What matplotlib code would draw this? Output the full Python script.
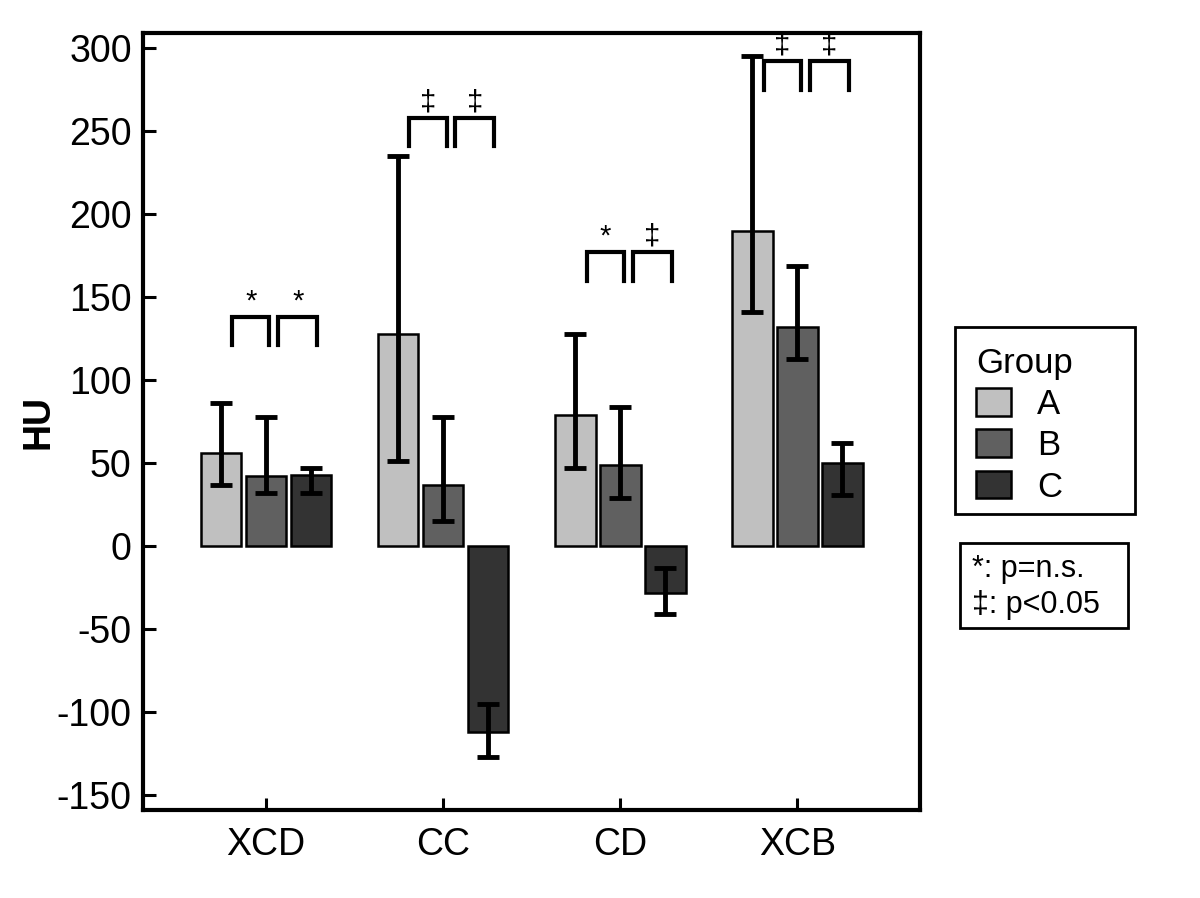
import numpy as np
import matplotlib.pyplot as plt
from matplotlib.patches import Rectangle

plt.rcParams['font.family'] = ['Liberation Sans', 'DejaVu Sans']
plt.rcParams['axes.unicode_minus'] = False

# data
regions = ["XCD", "CC", "CD", "XCB"]
groups = ["A", "B", "C"]
mean_a = [56, 128, 79, 190]
mean_b = [42, 37, 49, 132]
mean_c = [43, -112, -28, 50]
low_a = [37, 51, 47, 141]
high_a = [86, 235, 128, 295]
low_b = [32, 15, 29, 113]
high_b = [78, 78, 84, 169]
low_c = [32, -127, -41, 31]
high_c = [47, -95, -13, 62]
sig_ab = ["*", "‡", "*", "‡"]
sig_bc = ["*", "‡", "‡", "‡"]
bracket_top = [138, 258, 177, 292]

colors = ["#c0c0c0", "#606060", "#333333"]

fig = plt.figure(figsize=(12, 8.98), dpi=100)
ax = fig.add_axes([0.119, 0.098, 0.648, 0.865])

x = np.arange(len(regions))
width = 0.23
step = 0.254
means = [mean_a, mean_b, mean_c]
lows = [low_a, low_b, low_c]
highs = [high_a, high_b, high_c]

for i, g in enumerate(groups):
    m = np.array(means[i])
    lo = np.array(lows[i])
    hi = np.array(highs[i])
    pos = x + (i - 1) * step
    ax.bar(pos, m, width, color=colors[i], edgecolor="black", linewidth=1.8, label=g, zorder=2)
    ax.errorbar(pos, m, yerr=[m - lo, hi - m], fmt="none", ecolor="black",
                elinewidth=3.5, capsize=8, capthick=3.5, zorder=3)

# significance brackets
for k in range(len(regions)):
    top = bracket_top[k]
    bot = top - 17
    for (x0, x1), s in zip([(-0.19, 0.02), (0.07, 0.29)], [sig_ab[k], sig_bc[k]]):
        ax.plot([k + x0, k + x0, k + x1, k + x1], [bot, top, top, bot], color="black",
                lw=3, solid_joinstyle="miter", zorder=3)
        ax.text(k + (x0 + x1) / 2, top + 1, s, ha="center", va="bottom", fontsize=21)

ax.set_xlim(-0.695, 3.695)
ax.set_ylim(-159, 309)
ax.set_yticks(np.arange(-150, 301, 50))
ax.set_xticks(x)
ax.set_xticklabels(regions)
ax.tick_params(direction="in", length=9, width=2.2, labelsize=27, pad=8)
ax.tick_params(axis="x", pad=12)
for sp in ax.spines.values():
    sp.set_linewidth(3)
ax.set_ylabel("HU", fontsize=27, fontweight="bold", labelpad=0)

# legend box drawn separately so its size matches
fig.patches.append(Rectangle((0.796, 0.4276), 0.15, 0.2082, transform=fig.transFigure,
                             fill=False, ec="black", lw=2))
leg = ax.legend(title="Group", loc="upper left", bbox_to_anchor=(0.8135, 0.614),
                bbox_transform=fig.transFigure, fontsize=25, title_fontsize=25,
                frameon=False, handlelength=1.0, handleheight=0.85, handletextpad=0.75,
                labelspacing=0.24, borderpad=0, borderaxespad=0)
leg._legend_box.align = "left"

fig.patches.append(Rectangle((0.8, 0.3007), 0.14, 0.0947, transform=fig.transFigure,
                             fill=False, ec="black", lw=2))
fig.text(0.81, 0.346, "*: p=n.s.\n‡: p<0.05", fontsize=22, va="center", ha="left",
         linespacing=1.25)

fig.savefig("out.png", dpi=100)
